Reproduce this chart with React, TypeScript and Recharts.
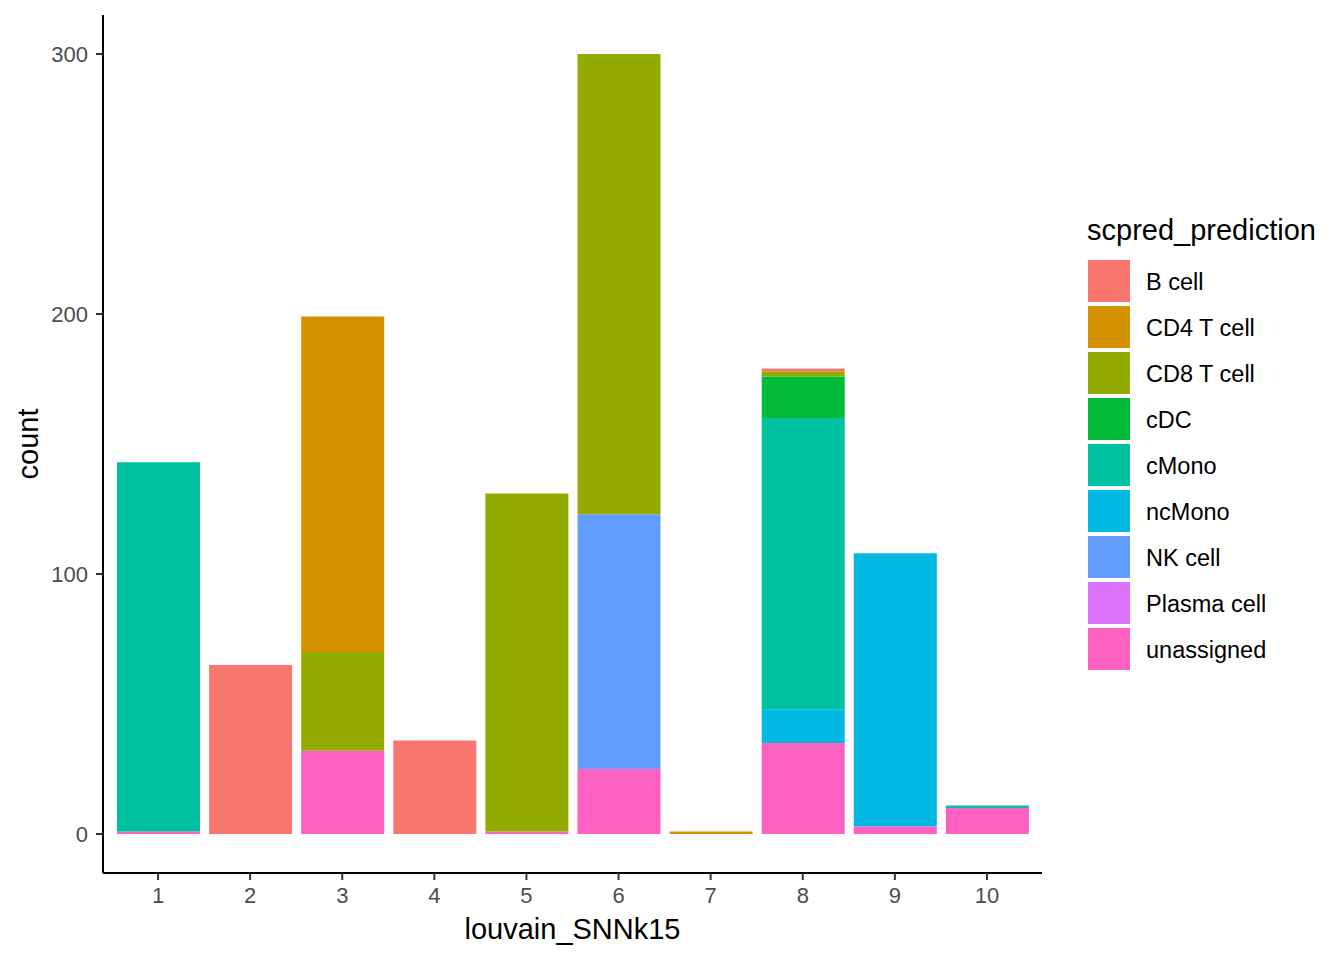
import React from "react";
import { BarChart, Bar, XAxis, YAxis, Label } from "recharts";

const categories = ["1", "2", "3", "4", "5", "6", "7", "8", "9", "10"];

// stacking order: bottom first
const unassigned = [1, 0, 32, 0, 1, 25, 0, 35, 3, 10];
const plasmaCell = [0, 0, 0, 0, 0, 0, 0, 0, 0, 0];
const nkCell = [0, 0, 0, 0, 0, 98, 0, 0, 0, 0];
const ncMono = [0, 0, 0, 0, 0, 0, 0, 13, 105, 0];
const cMono = [142, 0, 0, 0, 0, 0, 0, 112, 0, 1];
const cDC = [0, 0, 0, 0, 0, 0, 0, 16, 0, 0];
const cd8TCell = [0, 0, 38, 0, 130, 177, 0, 2, 0, 0];
const cd4TCell = [0, 0, 129, 0, 0, 0, 1, 0, 0, 0];
const bCell = [0, 65, 0, 36, 0, 0, 0, 1, 0, 0];

const yTicks = [0, 100, 200, 300];

const series = [
  { key: "unassigned", label: "unassigned", values: unassigned, color: "#FF61C3" },
  { key: "plasma", label: "Plasma cell", values: plasmaCell, color: "#DB72FB" },
  { key: "nk", label: "NK cell", values: nkCell, color: "#619CFF" },
  { key: "ncmono", label: "ncMono", values: ncMono, color: "#00B9E3" },
  { key: "cmono", label: "cMono", values: cMono, color: "#00C19F" },
  { key: "cdc", label: "cDC", values: cDC, color: "#00BA38" },
  { key: "cd8", label: "CD8 T cell", values: cd8TCell, color: "#93AA00" },
  { key: "cd4", label: "CD4 T cell", values: cd4TCell, color: "#D39200" },
  { key: "b", label: "B cell", values: bCell, color: "#F8766D" },
];

const legendOrder = [...series].reverse();

const data = categories.map((c, i) => {
  const row: Record<string, string | number> = { cluster: c };
  series.forEach((s) => {
    row[s.key] = s.values[i];
  });
  return row;
});

const FONT = "'Liberation Sans', Arial, Helvetica, sans-serif";

export default function App() {
  return (
    <div style={{ position: "absolute", left: 0, top: 0, width: 1344, height: 960, background: "#fff", fontFamily: FONT }}>
      <BarChart
        width={1344}
        height={960}
        data={data}
        margin={{ top: 15, right: 302, bottom: 0, left: 0 }}
        barCategoryGap={0}
        barGap={0}
      >
        <XAxis
          dataKey="cluster"
          type="category"
          padding={{ left: 9, right: 9 }}
          height={87}
          axisLine={{ stroke: "#000", strokeWidth: 2 }}
          tickLine={{ stroke: "#333", strokeWidth: 2 }}
          tickSize={7}
          tickMargin={7}
          tick={{ fill: "#4D4D4D", fontSize: 22, fontFamily: FONT }}
        >
          <Label
            content={(props: any) => {
              const vb = props.viewBox || { x: 0, y: 0, width: 0, height: 0 };
              return (
                <text
                  x={vb.x + vb.width / 2}
                  y={vb.y + 56}
                  textAnchor="middle"
                  dominantBaseline="central"
                  fontSize={29}
                  fontFamily={FONT}
                  fill="#000"
                >
                  louvain_SNNk15
                </text>
              );
            }}
          />
        </XAxis>
        <YAxis
          type="number"
          domain={[-15, 315]}
          allowDataOverflow
          ticks={yTicks}
          width={103}
          axisLine={{ stroke: "#000", strokeWidth: 2 }}
          tickLine={{ stroke: "#333", strokeWidth: 2 }}
          tickSize={7}
          tickMargin={8}
          tick={{ fill: "#4D4D4D", fontSize: 22, fontFamily: FONT }}
        >
          <Label
            content={(props: any) => {
              const vb = props.viewBox || { x: 0, y: 0, width: 0, height: 0 };
              const cx = vb.x + 28;
              const cy = vb.y + vb.height / 2;
              return (
                <text
                  x={cx}
                  y={cy}
                  transform={`rotate(-90 ${cx} ${cy})`}
                  textAnchor="middle"
                  dominantBaseline="central"
                  fontSize={29}
                  fontFamily={FONT}
                  fill="#000"
                >
                  count
                </text>
              );
            }}
          />
        </YAxis>
        {series.map((s) => (
          <Bar
            key={s.key}
            dataKey={s.key}
            stackId="a"
            fill={s.color}
            barSize={83}
            isAnimationActive={false}
          />
        ))}
      </BarChart>
      <div
        style={{
          position: "absolute",
          left: 1087,
          top: 214,
          fontSize: 29,
          lineHeight: "32px",
          color: "#000",
          whiteSpace: "nowrap",
        }}
      >
        scpred_prediction
      </div>
      {legendOrder.map((s, i) => (
        <div
          key={s.key}
          style={{ position: "absolute", left: 1088, top: 260 + i * 46, height: 42, display: "flex", alignItems: "center" }}
        >
          <div style={{ width: 42, height: 42, background: s.color }} />
          <div style={{ marginLeft: 16, marginTop: 2, fontSize: 23.5, color: "#000", whiteSpace: "nowrap" }}>{s.label}</div>
        </div>
      ))}
    </div>
  );
}
